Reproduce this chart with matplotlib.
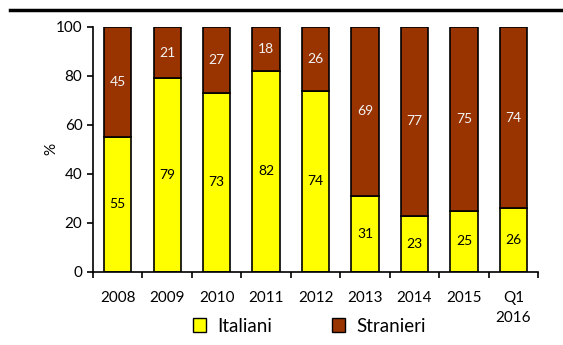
import numpy as np
import matplotlib.pyplot as plt
from matplotlib.lines import Line2D
from matplotlib.patches import Patch

plt.rcParams['font.family'] = ['Lato', 'DejaVu Sans']

# categories and shares (%)
periods = ['2008', '2009', '2010', '2011', '2012', '2013', '2014', '2015', 'Q1\n2016']
italiani = [55, 79, 73, 82, 74, 31, 23, 25, 26]
stranieri = [45, 21, 27, 18, 26, 69, 77, 75, 74]

col_it = '#FFFF00'
col_st = '#993300'

fig = plt.figure(figsize=(5.63, 3.45), dpi=100)
ax = fig.add_axes([0.165, 0.212, 0.791, 0.710])

x = np.arange(len(periods))
w = 0.55
b1 = ax.bar(x, italiani, w, color=col_it, edgecolor='black', linewidth=1.2, label='Italiani')
b2 = ax.bar(x, stranieri, w, bottom=italiani, color=col_st, edgecolor='black',
            linewidth=1.2, label='Stranieri')

ax.bar_label(b1, labels=[str(v) for v in italiani], label_type='center',
             fontsize=10, color='black')
ax.bar_label(b2, labels=[str(v) for v in stranieri], label_type='center',
             fontsize=10, color='#f2f2f2')

ax.set_xlim(-0.5, len(periods) - 0.5)
ax.set_ylim(0, 100)
ax.set_yticks(range(0, 101, 20))
ax.set_xticks(x)
ax.set_xticklabels(periods, fontsize=11, linespacing=1.5)
ax.set_xticks(np.arange(-0.5, len(periods), 1), minor=True)
ax.tick_params(axis='x', which='major', length=0, pad=14)
ax.tick_params(axis='x', which='minor', length=4, width=1.2, direction='out')
ax.tick_params(axis='y', length=4, width=1.2, direction='out', labelsize=11)
ax.set_ylabel('%', fontsize=11, labelpad=-2)

for s in ['top', 'right']:
    ax.spines[s].set_visible(False)
for s in ['left', 'bottom']:
    ax.spines[s].set_linewidth(1.2)

handles = [Patch(facecolor=col_it, edgecolor='black', label='Italiani'),
           Patch(facecolor=col_st, edgecolor='black', label='Stranieri')]
fig.legend(handles=handles, loc='center', bbox_to_anchor=(0.55, 0.055), ncol=2,
           frameon=False, fontsize=13.5, handlelength=0.7, handleheight=0.7,
           columnspacing=3.2, handletextpad=0.6)

# rule across the top
fig.add_artist(Line2D([0.018, 1.0], [0.971, 0.971], color='black', linewidth=2.5,
                      transform=fig.transFigure))

fig.savefig('out.png', dpi=100)
